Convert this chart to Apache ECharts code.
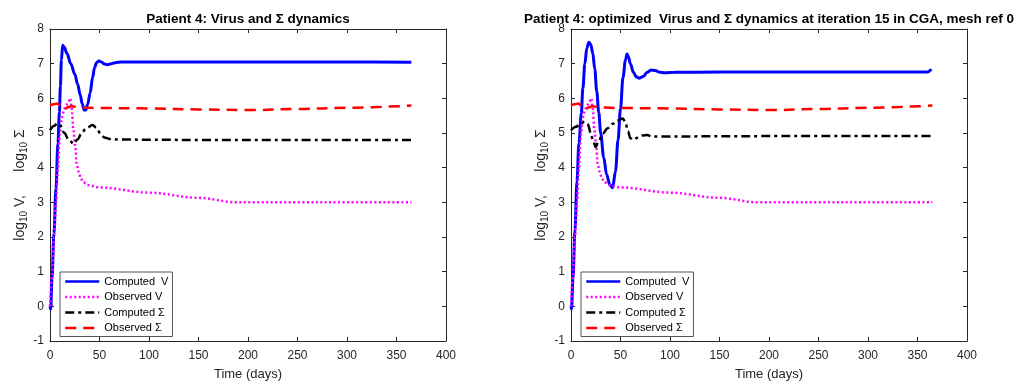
<!DOCTYPE html>
<html>
<head>
<meta charset="utf-8">
<script src="https://cdn.jsdelivr.net/npm/echarts@6/dist/echarts.min.js"></script>
<style>
html,body{margin:0;padding:0;background:#fff;}
#chart{width:1016px;height:381px;}
</style>
</head>
<body>
<div id="chart"></div>
<script>
// ---- data (time in days, values in log10) ----
const titleLeft = 'Patient 4: Virus and Σ dynamics';
const titleRight = 'Patient 4: optimized  Virus and Σ dynamics at iteration 15 in CGA, mesh ref 0';
const legendNames = ['Computed  V', 'Observed V', 'Computed Σ', 'Observed Σ'];
const xTicks = [0, 50, 100, 150, 200, 250, 300, 350, 400];
const yTicks = [-1, 0, 1, 2, 3, 4, 5, 6, 7, 8];

// Observed V (same in both panels)
const tObsV = [0, 2, 4, 6, 8, 10, 12, 14, 16, 18.5, 20.5, 22, 23.6, 25.5, 27, 29, 31, 33.5, 38, 50, 100, 150, 188, 250, 300, 365];
const vObsV = [0, 0.9, 2.0, 3.0, 4.0, 4.95, 5.45, 5.65, 5.78, 5.9, 6.0, 5.7, 5.1, 4.6, 4.1, 3.88, 3.7, 3.58, 3.5, 3.43, 3.28, 3.13, 3.0, 3.0, 3.0, 3.0];

// Observed Sigma (same in both panels)
const tObsS = [0, 4, 7.7, 11, 14.5, 18, 21.2, 30, 50, 100, 150, 200, 250, 300, 365];
const vObsS = [5.8, 5.83, 5.85, 5.76, 5.68, 5.74, 5.77, 5.74, 5.72, 5.71, 5.68, 5.66, 5.69, 5.73, 5.79];

// Left panel: computed V
const tCompV1 = [0, 0.7, 2, 4, 6, 8, 9.5, 10.5, 11.5, 12.8, 14.5, 17, 21, 25, 28, 30.5, 32.5, 34.5, 36, 38, 40.5, 43, 45, 47, 49.5, 52, 55, 58, 62, 66, 72, 100, 200, 300, 365];
const vCompV1 = [0, -0.08, 0.8, 2.1, 3.4, 4.7, 5.6, 6.35, 7.1, 7.53, 7.47, 7.3, 7.0, 6.7, 6.4, 6.1, 5.85, 5.66, 5.66, 5.82, 6.15, 6.6, 6.88, 7.03, 7.08, 7.05, 6.99, 6.97, 7.0, 7.03, 7.05, 7.05, 7.05, 7.05, 7.04];

// Left panel: computed Sigma
const tCompS1 = [0, 4, 7.7, 10, 14.5, 19, 24, 28, 32, 36.4, 43, 47, 51, 55, 60, 70, 150, 250, 365];
const vCompS1 = [5.08, 5.2, 5.28, 5.22, 5.0, 4.8, 4.69, 4.82, 5.0, 5.13, 5.23, 5.15, 4.98, 4.87, 4.83, 4.81, 4.8, 4.8, 4.8];

// Right panel: computed V
const tCompV2 = [0, 0.5, 2, 4, 6, 8, 10.4, 12, 14, 16, 18, 20, 22, 24, 26, 28, 30, 33, 36, 39, 42, 45, 47.5, 50, 52.5, 55, 56.6, 58, 60, 63, 66, 69, 73, 77, 81, 85, 90, 95, 105, 150, 250, 360, 364];
const vCompV2 = [0, -0.08, 0.8, 2.2, 3.6, 4.7, 5.56, 6.3, 7.0, 7.45, 7.62, 7.55, 7.3, 6.85, 6.2, 5.6, 5.0, 4.3, 3.8, 3.52, 3.42, 3.9, 4.8, 5.7, 6.6, 7.1, 7.28, 7.2, 7.0, 6.75, 6.62, 6.58, 6.63, 6.75, 6.82, 6.8, 6.75, 6.74, 6.75, 6.76, 6.76, 6.76, 6.84];

// Right panel: computed Sigma
const tCompS2 = [0, 5, 10, 13.8, 17, 20, 22.2, 24.9, 28, 32.3, 37, 42.4, 47, 52.4, 55, 57.5, 60, 63, 67, 72, 77, 82, 90, 200, 365];
const vCompS2 = [5.08, 5.18, 5.27, 5.33, 5.25, 5.0, 4.79, 4.6, 4.78, 4.99, 5.14, 5.27, 5.36, 5.42, 5.3, 5.05, 4.85, 4.8, 4.86, 4.93, 4.94, 4.9, 4.9, 4.91, 4.91];

// ---- build chart ----
const zip = (t, v) => t.map((x, i) => [x, v[i]]);
const FONT = 'Liberation Sans';
const AX = '#262626';
const grids = [
  {left: 50, top: 29, width: 396, height: 312, outerBoundsMode: 'none', containLabel: false},
  {left: 571, top: 29, width: 396, height: 312, outerBoundsMode: 'none', containLabel: false}
];

const xAxes = [], yAxes = [];
grids.forEach((g, i) => {
  xAxes.push({
    type: 'value', gridIndex: i, position: 'bottom', min: xTicks[0], max: xTicks[xTicks.length - 1], interval: 50,
    axisLine: {onZero: false, lineStyle: {color: AX, width: 1}},
    axisTick: {inside: true, length: 4, lineStyle: {color: AX}},
    axisLabel: {color: AX, fontSize: 12, fontFamily: FONT, margin: 9},
    splitLine: {show: false},
    name: 'Time (days)', nameLocation: 'middle', nameGap: 27,
    nameTextStyle: {color: AX, fontSize: 13, fontFamily: FONT}
  });
  xAxes.push({
    type: 'value', gridIndex: i, position: 'top', min: 0, max: 400, interval: 50,
    axisLine: {onZero: false, lineStyle: {color: AX, width: 1}},
    axisTick: {inside: true, length: 4, lineStyle: {color: AX}},
    axisLabel: {show: false}, splitLine: {show: false}
  });
  yAxes.push({
    type: 'value', gridIndex: i, position: 'left', min: yTicks[0], max: yTicks[yTicks.length - 1], interval: 1,
    axisLine: {show: true, onZero: false, lineStyle: {color: AX, width: 1}},
    axisTick: {show: true, inside: true, length: 4, lineStyle: {color: AX}},
    axisLabel: {color: AX, fontSize: 12, fontFamily: FONT, margin: 6},
    splitLine: {show: false},
    name: '{n|log}{s|10}{n| V,      log}{s|10}{n| Σ}',
    nameLocation: 'middle', nameGap: 20, nameRotate: 90,
    nameTextStyle: {
      color: AX, fontFamily: FONT,
      rich: {
        n: {fontSize: 14, fontFamily: FONT, color: AX},
        s: {fontSize: 10, fontFamily: FONT, color: AX, padding: [8, 0, 0, 0]}
      }
    }
  });
  yAxes.push({
    type: 'value', gridIndex: i, position: 'right', min: -1, max: 8, interval: 1,
    axisLine: {show: true, onZero: false, lineStyle: {color: AX, width: 1}},
    axisTick: {show: true, inside: true, length: 4, lineStyle: {color: AX}},
    axisLabel: {show: false}, splitLine: {show: false}
  });
});

function mk(name, data, i, color, type, width) {
  return {
    name: name, type: 'line', xAxisIndex: i * 2, yAxisIndex: i * 2,
    data: data, symbol: 'none', smooth: 0.35, smoothMonotone: 'x',
    lineStyle: {color: color, width: width, type: type},
    itemStyle: {color: color},
    animation: false, z: 3
  };
}

const series = [];
[[tCompV1, vCompV1, tCompS1, vCompS1], [tCompV2, vCompV2, tCompS2, vCompS2]].forEach((d, i) => {
  series.push(mk(legendNames[0], zip(d[0], d[1]), i, '#0000ff', 'solid', 3));
  series.push(mk(legendNames[1], zip(tObsV, vObsV), i, '#ff00ff', [2, 2.5], 2.5));
  series.push(mk(legendNames[2], zip(d[2], d[3]), i, '#000000', [9, 4, 3, 4], 2.5));
  series.push(mk(legendNames[3], zip(tObsS, vObsS), i, '#ff0000', [11, 7], 2.5));
});

const legendBase = {
  orient: 'vertical', top: 272, itemWidth: 34, itemHeight: 10, itemGap: 4.5,
  padding: [4, 4, 3, 4], borderColor: '#555', borderWidth: 1, backgroundColor: '#fff',
  selectedMode: false, data: legendNames,
  itemStyle: {opacity: 0},
  lineStyle: {width: 2.5},
  textStyle: {fontSize: 11, fontFamily: FONT, color: '#000'}
};

const option = {
  backgroundColor: '#fff',
  animation: false,
  title: [
    {text: titleLeft, left: 248, top: 12, textAlign: 'center', padding: 0,
     textStyle: {fontSize: 13.5, fontWeight: 'bold', fontFamily: FONT, color: '#000'}},
    {text: titleRight, left: 769, top: 12, textAlign: 'center', padding: 0,
     textStyle: {fontSize: 13.5, fontWeight: 'bold', fontFamily: FONT, color: '#000'}}
  ],
  legend: [
    Object.assign({}, legendBase, {left: 60}),
    Object.assign({}, legendBase, {left: 581})
  ],
  grid: grids,
  xAxis: xAxes,
  yAxis: yAxes,
  series: series
};

const chart = echarts.init(document.getElementById('chart'), null, {renderer: 'canvas'});
chart.setOption(option);
</script>
</body>
</html>
